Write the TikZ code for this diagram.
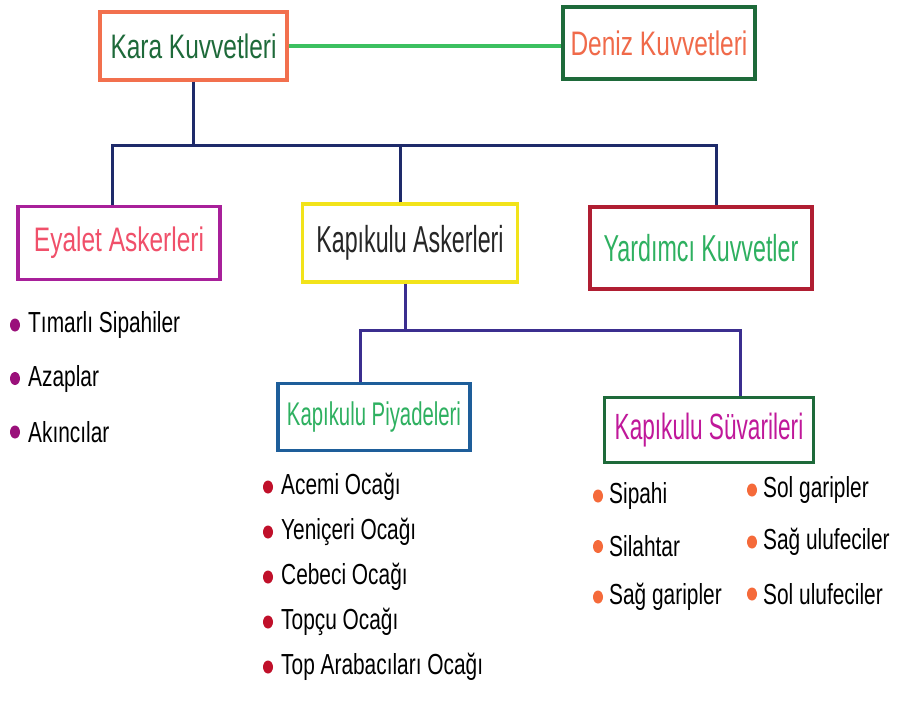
\documentclass[tikz,border=0pt]{standalone}
\usepackage{fontspec}
\setmainfont{Liberation Sans}[FakeStretch=0.72]
\newfontfamily\narrowfont{Liberation Sans}[FakeStretch=0.62]
\usetikzlibrary{calc,shapes.geometric}
\definecolor{karaB}{HTML}{F2704E}
\definecolor{darkG}{HTML}{1E6A3A}
\definecolor{orangeT}{HTML}{F06A4A}
\definecolor{topline}{HTML}{3CC060}
\definecolor{navyL}{HTML}{1E2A6A}
\definecolor{purpL}{HTML}{3B2E8F}
\definecolor{eyB}{HTML}{A8209A}
\definecolor{eyT}{HTML}{F0506A}
\definecolor{kapB}{HTML}{F2E31A}
\definecolor{yarB}{HTML}{B01E32}
\definecolor{greenT}{HTML}{2EB060}
\definecolor{piyB}{HTML}{1E5E9A}
\definecolor{suvT}{HTML}{C0189A}
\definecolor{bulE}{HTML}{9A107A}
\definecolor{bulP}{HTML}{C0102A}
\definecolor{bulS}{HTML}{F56A3A}
\tikzset{
  box/.style={draw, line width=3.4pt, rectangle, inner sep=0pt, font=\fontsize{34}{38}\selectfont},
  item/.style={anchor=west, inner sep=0pt, text=black, font=\fontsize{29}{32}\selectfont},
  dot/.style={ellipse, inner sep=0pt, minimum width=10pt, minimum height=13pt, fill=#1},
  conn/.style={line width=3pt, draw=#1},
}
\begin{document}
\begin{tikzpicture}[x=1pt,y=-1pt]
\useasboundingbox (0,0) rectangle (902,713);
\fill[white] (0,0) rectangle (902,713);
% boxes
\node[box, draw=karaB, text=darkG, minimum width=187pt, minimum height=68pt] (kara) at (193.5,46) {Kara Kuvvetleri};
\node[box, draw=darkG, text=orangeT, minimum width=192pt, minimum height=72pt] (deniz) at (659,43) {Deniz Kuvvetleri};
\node[box, draw=eyB, text=eyT, minimum width=202pt, minimum height=73pt] (eyalet) at (119,243) {Eyalet Askerleri};
\node[box, draw=kapB, text=black!85, minimum width=215pt, minimum height=78pt, font=\narrowfont\fontsize{37.5}{40}\selectfont] (kapi) at (410,243) {Kapıkulu Askerleri};
\node[box, draw=yarB, text=greenT, minimum width=222pt, minimum height=82pt, font=\narrowfont\fontsize{37.5}{40}\selectfont] (yard) at (701,248) {Yardımcı Kuvvetler};
\node[box, draw=piyB, text=greenT, minimum width=192pt, minimum height=67pt, font=\narrowfont\fontsize{32.8}{36}\selectfont] (piyade) at (374,417) {Kapıkulu Piyadeleri};
\node[box, draw=darkG, text=suvT, minimum width=209pt, minimum height=65pt, font=\narrowfont\fontsize{36.5}{39}\selectfont] (suvari) at (709,430) {Kapıkulu Süvarileri};
% connectors
\coordinate (bus1) at (0,145);
\coordinate (bus2) at (0,330);
\draw[conn=topline, line width=3.4pt] (kara.east) -- (deniz.west |- kara.east);
\draw[conn=navyL] (kara.south) -- (kara.south |- bus1);
\draw[conn=navyL] ([xshift=-7pt]eyalet.north) -- ([xshift=-7pt]eyalet.north |- bus1) -- ([xshift=15pt]yard.north |- bus1) -- ([xshift=15pt]yard.north);
\draw[conn=navyL] ([xshift=-10pt]kapi.north) -- ([xshift=-10pt]kapi.north |- bus1);
\draw[conn=purpL] ([xshift=-5pt]kapi.south) -- ([xshift=-5pt]kapi.south |- bus2);
\draw[conn=purpL] ([xshift=-14pt]piyade.north) -- ([xshift=-14pt]piyade.north |- bus2) -- ([xshift=31pt]suvari.north |- bus2) -- ([xshift=31pt]suvari.north);
% Eyalet items
\foreach \t [count=\i] in {Tımarlı Sipahiler, Azaplar, Akıncılar}{
  \pgfmathsetmacro{\yy}{325+53.5*(\i-1)}
  \node[dot=bulE] (eb\i) at (15,\yy) {};
  \node[item] (e\i) at (28,\yy) {\t};
}
% Piyade items
\foreach \t [count=\i] in {Acemi Ocağı, Yeniçeri Ocağı, Cebeci Ocağı, Topçu Ocağı, Top Arabacıları Ocağı}{
  \pgfmathsetmacro{\yy}{487+45*(\i-1)}
  \node[dot=bulP] (pb\i) at (268,\yy) {};
  \node[item] (p\i) at (281,\yy) {\t};
}
% Suvari items
\foreach \t [count=\i] in {Sipahi, Silahtar, Sağ garipler}{
  \pgfmathsetmacro{\yy}{496+50.5*(\i-1)}
  \node[dot=bulS] (sa\i) at (598,\yy) {};
  \node[item] (s\i) at (609,\yy) {\t};
}
\foreach \t [count=\i] in {Sol garipler, Sağ ulufeciler, Sol ulufeciler}{
  \pgfmathsetmacro{\yy}{490+52*(\i-1)}
  \node[dot=bulS] (tb\i) at (752,\yy) {};
  \node[item] (t\i) at (763,\yy) {\t};
}
\end{tikzpicture}
\end{document}
